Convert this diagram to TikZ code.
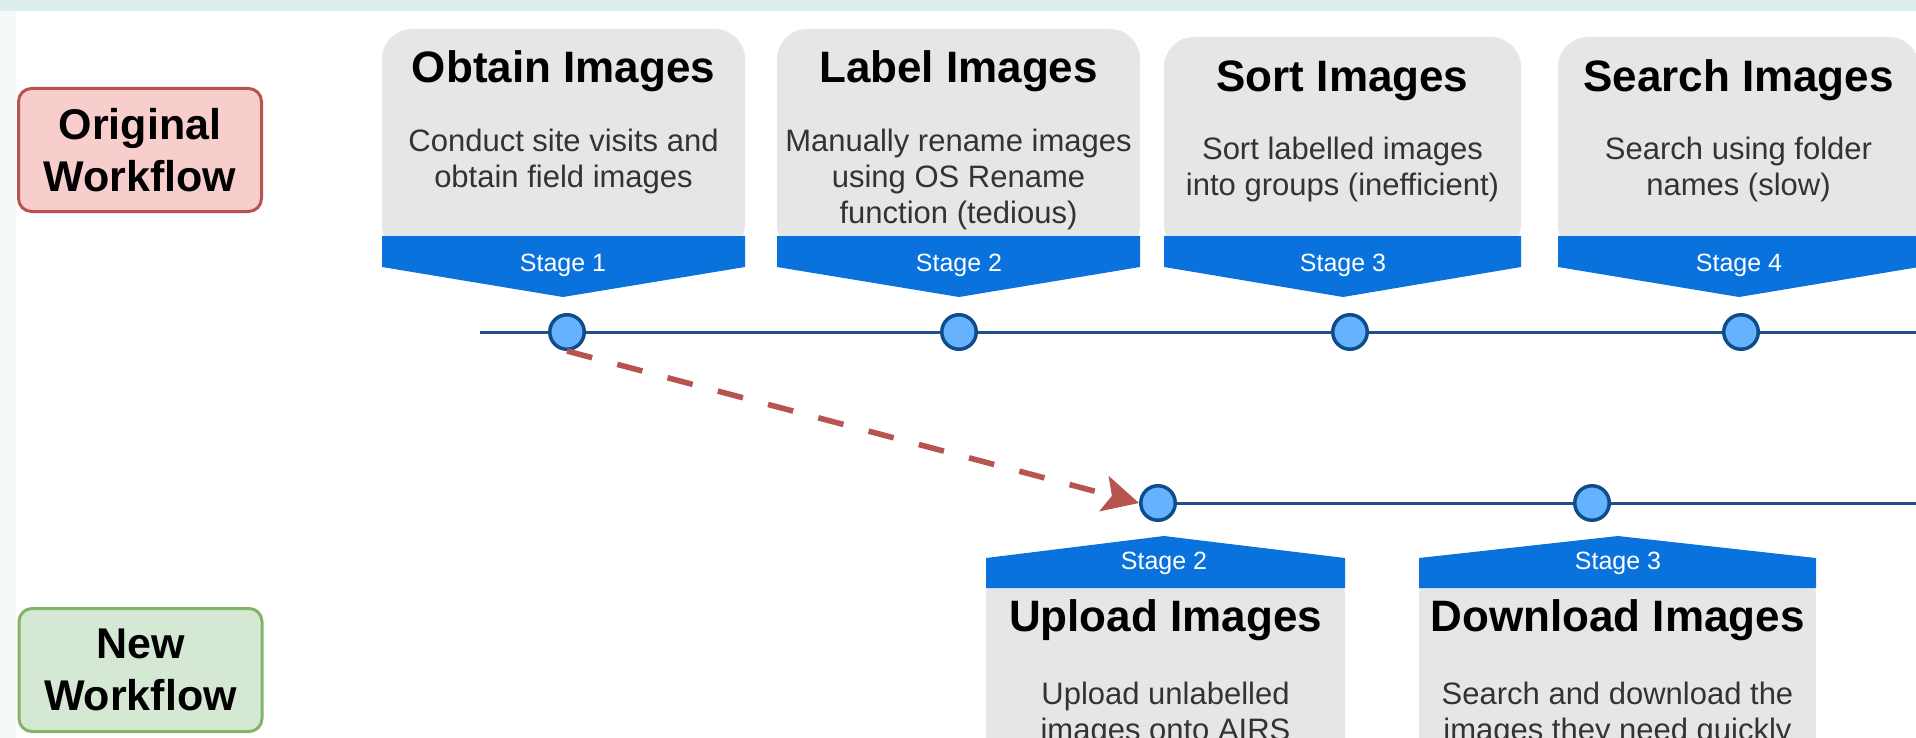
\documentclass[tikz,border=0pt]{standalone}
\usepackage{fontspec}
\setmainfont{Liberation Sans}
\usetikzlibrary{arrows.meta}
\definecolor{bandteal}{HTML}{DCEFEE}
\definecolor{stripteal}{HTML}{F4FAFA}
\definecolor{oldfill}{HTML}{F8CECC}
\definecolor{olddraw}{HTML}{B85450}
\definecolor{newfill}{HTML}{D5E8D4}
\definecolor{newdraw}{HTML}{82B366}
\definecolor{cardgray}{HTML}{E6E6E6}
\definecolor{stageblue}{HTML}{0A72DD}
\definecolor{dotfill}{HTML}{66B2FF}
\definecolor{dotdraw}{HTML}{0F4C8C}
\definecolor{lineblue}{HTML}{1F4F8C}
\definecolor{desctext}{HTML}{333333}
\newcommand{\upcard}[8]{
	\fill[cardgray, rounded corners=15pt] (#2,#4) rectangle (#3,255);
	\fill[stageblue] (#2,236) -- (#3,236) -- (#3,267) -- (#5,297) -- (#2,267) -- cycle;
	\node[cardtitle] (t#1) at ({(#2+#3)/2},#4+54) {#6};
	\node[carddesc] (d#1) at ({(#2+#3)/2},#4+100) {#7};
	\node[stagetext] (s#1) at (#5,265) {#8};
}
\newcommand{\downcard}[7]{
	\fill[cardgray, rounded corners=15pt] (#2,565) rectangle (#3,900);
	\fill[stageblue] (#2,558) -- (#4,536) -- (#3,558) -- (#3,588) -- (#2,588) -- cycle;
	\node[cardtitle] (t#1) at ({(#2+#3)/2},631) {#5};
	\node[carddesc] (d#1) at ({(#2+#3)/2},682) {#6};
	\node[stagetext] (s#1) at (#4,563) {#7};
}

\begin{document}
\begin{tikzpicture}[x=0.5pt,y=-0.5pt,
	cardtitle/.style={anchor=base, inner sep=0, font=\fontsize{22}{26}\selectfont\bfseries},
	carddesc/.style={anchor=north, inner sep=0, align=center, text=desctext, font=\fontsize{15.5}{18}\selectfont},
	stagetext/.style={text=white, inner sep=0, font=\fontsize{12.5}{15}\selectfont},
	stagedot/.style={circle, draw=dotdraw, fill=dotfill, line width=1.75pt, minimum size=17.25pt, inner sep=0},
	timeline/.style={draw=lineblue, line width=1.5pt},
	workflow/.style={rounded corners=6.5pt, line width=1.5pt, align=center, minimum width=121.5pt, minimum height=61.5pt, font=\fontsize{21.5}{26}\selectfont\bfseries},
	jump/.style={draw=olddraw, line width=2.8pt, dash pattern=on 13pt off 13pt, -{Stealth[length=18pt, width=18pt, inset=4pt]}}]
	\path[use as bounding box, clip] (0,0) rectangle (1916,738);
	\fill[stripteal] (0,0) rectangle (16,738);
	\fill[bandteal] (0,0) rectangle (1916,11);
	\node[workflow, fill=oldfill, draw=olddraw] (old) at (140,150) {Original\\Workflow};
	\node[workflow, fill=newfill, draw=newdraw] (new) at (140.5,670) {New\\Workflow};
	\upcard{1}{382}{745}{29}{563}{Obtain Images}{Conduct site visits and\\obtain field images}{Stage 1}
	\upcard{2}{777}{1140}{29}{959}{Label Images}{Manually rename images\\using OS Rename\\function (tedious)}{Stage 2}
	\upcard{3}{1164}{1521}{37}{1343}{Sort Images}{Sort labelled images\\into groups (inefficient)}{Stage 3}
	\upcard{4}{1558}{1919}{37}{1739}{Search Images}{Search using folder\\names (slow)}{Stage 4}
	\downcard{n2}{986}{1345}{1164}{Upload Images}{Upload unlabelled\\images onto AIRS}{Stage 2}
	\downcard{n3}{1419}{1816}{1618}{Download Images}{Search and download the\\images they need quickly}{Stage 3}
	\node[stagedot] (o1) at (567,332) {};
	\node[stagedot] (o2) at (959,332) {};
	\node[stagedot] (o3) at (1350,332) {};
	\node[stagedot] (o4) at (1741,332) {};
	\node[stagedot] (n2) at (1158,503) {};
	\node[stagedot] (n3) at (1592,503) {};
	\coordinate (ostart) at (480,332);
	\coordinate (oend) at (1930,332);
	\coordinate (nend) at (1930,503);
	\draw[timeline] (ostart) -- (o1) -- (o2) -- (o3) -- (o4) -- (oend);
	\draw[timeline] (n2) -- (n3) -- (nend);
	\draw[jump] (o1.south) -- (n2.west);
\end{tikzpicture}
\end{document}
